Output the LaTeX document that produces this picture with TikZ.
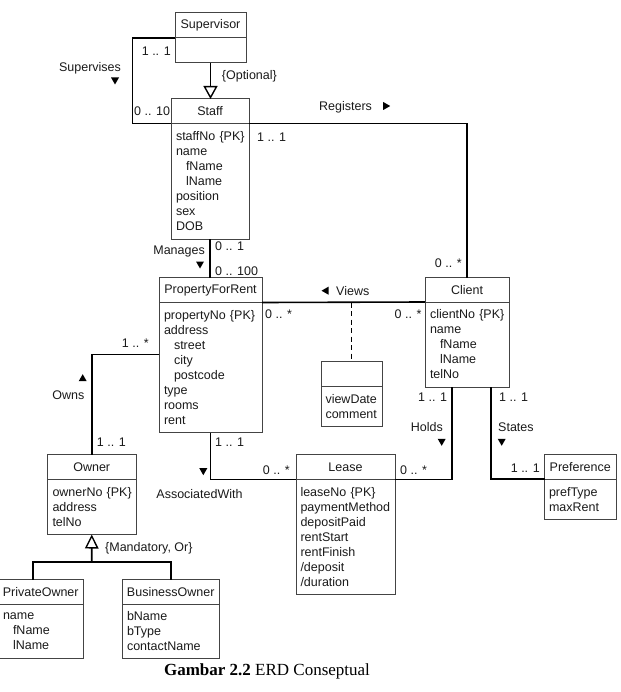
\documentclass[tikz,border=0pt]{standalone}
\usepackage{fontspec}
\newfontfamily\umlf{Liberation Sans}
\newfontfamily\capf{Liberation Serif}
\usetikzlibrary{arrows.meta,calc}
\definecolor{boxc}{HTML}{444444}
\definecolor{txt}{HTML}{1A1A1A}
\newcommand\tridown[1]{\fill[black] (#1) ++(-4,-3.5) -- ++(8,0) -- ++(-4,7) -- cycle;}
\newcommand\triup[1]{\fill[black] (#1) ++(-4,3.5) -- ++(8,0) -- ++(-4,-7) -- cycle;}
\newcommand\triright[1]{\fill[black] (#1) ++(-3.5,-4) -- ++(0,8) -- ++(7,-4) -- cycle;}
\newcommand\trileft[1]{\fill[black] (#1) ++(3.5,-4) -- ++(0,8) -- ++(-7,-4) -- cycle;}
\begin{document}
\begin{tikzpicture}[x=1pt,y=-1pt,
  hdr/.style={draw=boxc, line width=1pt, inner sep=0pt, outer sep=0pt, anchor=north west,
    font=\umlf\fontsize{12.5}{15}\selectfont, text=txt},
  bdy/.style={hdr, align=left, inner xsep=5pt},
  lbl/.style={inner sep=0pt, font=\umlf\fontsize{12.5}{15}\selectfont, text=txt},
  conn/.style={line width=1.6pt, draw=black},
  gen/.style={conn, -{Triangle[open, length=13pt, width=14pt, line width=1.4pt]}}]
\useasboundingbox (0,0) rectangle (620,692);

% classes
\node[hdr, minimum width=71, minimum height=25] (suph) at (175,13) {Supervisor};
\node[hdr, minimum width=71, minimum height=25] (supb) at (suph.south west) {};

\node[hdr, minimum width=78, minimum height=24.5] (stfh) at (171,99) {Staff};
\node[bdy, text width=68pt, minimum height=116] (stfb) at (stfh.south west)
  {staffNo~\{PK\}\\name\\\hspace*{10pt}fName\\\hspace*{10pt}lName\\position\\sex\\DOB};

\node[hdr, minimum width=103, minimum height=25] (pfrh) at (159,277.5) {PropertyForRent};
\node[bdy, text width=93pt, minimum height=130] (pfrb) at (pfrh.south west)
  {propertyNo~\{PK\}\\address\\\hspace*{10pt}street\\\hspace*{10pt}city\\\hspace*{10pt}postcode\\type\\rooms\\rent};

\node[hdr, minimum width=84, minimum height=24.5] (clih) at (425,277.5) {Client};
\node[bdy, text width=74pt, minimum height=85] (clib) at (clih.south west)
  {clientNo~\{PK\}\\name\\\hspace*{10pt}fName\\\hspace*{10pt}lName\\telNo};

\node[hdr, minimum width=61, minimum height=25] (ash) at (321,361.5) {};
\node[bdy, inner xsep=4.5pt, text width=52pt, minimum height=39.5] (asb) at (ash.south west)
  {viewDate\\comment};

\node[hdr, minimum width=99, minimum height=25] (leaseh) at (296,454.5) {Lease};
\node[bdy, inner xsep=4.5pt, text width=90pt, minimum height=115] (leaseb) at (leaseh.south west)
  {leaseNo~\{PK\}\\paymentMethod\\depositPaid\\rentStart\\rentFinish\\/deposit\\/duration};

\node[hdr, minimum width=71.5, minimum height=24.5] (prefh) at (544.5,454.5) {Preference};
\node[bdy, inner xsep=4.5pt, text width=62.5pt, minimum height=40.5] (prefb) at (prefh.south west)
  {prefType\\maxRent};

\node[hdr, minimum width=88.5, minimum height=24.5] (ownh) at (47.5,454.5) {Owner};
\node[bdy, text width=78.5pt, minimum height=55.5] (ownb) at (ownh.south west)
  {ownerNo~\{PK\}\\address\\telNo};

\node[hdr, minimum width=85.5, minimum height=24.5] (poh) at (-2,579.5) {PrivateOwner};
\node[bdy, text width=75.5pt, minimum height=54.5] (pob) at (poh.south west)
  {name\\\hspace*{10pt}fName\\\hspace*{10pt}lName};

\node[hdr, minimum width=97.5, minimum height=24.5] (busih) at (122,579.5) {BusinessOwner};
\node[bdy, text width=87.5pt, minimum height=54.5] (busib) at (busih.south west)
  {bName\\bType\\contactName};

% connectors
\coordinate (supl) at (132.5,38);
\draw[conn] (suph.south west) -- (supl) |- (stfh.south west);
\draw[gen] (supb.south) -- (supb.south |- stfh.north);
\draw[conn] (stfh.south east) -| (clih.north);
\draw[conn] (stfb.south) -- (stfb.south |- pfrh.north);
\draw[conn] (pfrh.south east) -- (clih.south west);
\draw[conn, line width=1.3pt, dash pattern=on 5pt off 3.5pt] (ash.north |- pfrh.south east) -- (ash.north);
\draw[conn] ([xshift=-15pt]clib.south) |- (leaseh.south east);
\draw[conn] ([xshift=24pt]clib.south) |- (prefh.south west);
\draw[conn] (pfrb.south) |- (leaseh.south west);
\draw[conn] ([yshift=13.2pt]pfrb.west) -| (ownh.north);
\coordinate (gj) at (91.7,562);
\coordinate (gl) at (32.7,562);
\draw[gen, -{Triangle[open, length=14pt, width=13.5pt, line width=1.4pt]}] (gj) -- (ownb.south);
\draw[conn] (gl |- poh.north) -- (gl) -- (gj -| busih.north) -- (busih.north);

% labels
\node[lbl, anchor=east] (m1) at (171,51.7) {1 .. 1};
\node[lbl] (supv) at (90,68) {Supervises};
\tridown{115,81}
\node[lbl, anchor=west] (opt) at (221.7,76) {\{Optional\}};
\node[lbl, anchor=west] (m2) at (134,111) {0 .. 10};
\node[lbl, anchor=west] (reg) at (319,107) {Registers};
\triright{386.7,106}
\node[lbl, anchor=west] (m3) at (257,137.7) {1 .. 1};
\node[lbl, anchor=east] (m4) at (462,263) {0 .. *};
\node[lbl, anchor=east] (man) at (205,251.7) {Manages};
\tridown{200,265}
\node[lbl, anchor=west] (m5) at (215,245.7) {0 .. 1};
\node[lbl, anchor=west] (m6) at (215,271) {0 .. 100};
\trileft{325,290.7}
\node[lbl, anchor=west] (views) at (336,290.7) {Views};
\node[lbl, anchor=west] (m7) at (265,314.3) {0 .. *};
\node[lbl, anchor=east] (m8) at (421.7,314) {0 .. *};
\node[lbl, anchor=east] (m9) at (149,342.7) {1 .. *};
\triup{82.7,377.7}
\node[lbl] (owns) at (68.3,395) {Owns};
\node[lbl, anchor=west] (m10) at (96.7,441.7) {1 .. 1};
\node[lbl, anchor=west] (m11) at (215,441.7) {1 .. 1};
\tridown{203.3,471.7}
\node[lbl] (assw) at (199.5,494.3) {AssociatedWith};
\node[lbl, anchor=east] (m12) at (290,470) {0 .. *};
\node[lbl, anchor=west] (m13) at (400,470) {0 .. *};
\node[lbl, anchor=east] (m14) at (447.3,397.3) {1 .. 1};
\node[lbl, anchor=east] (holds) at (443,427.3) {Holds};
\tridown{441.7,442.3}
\node[lbl, anchor=west] (m15) at (499,397.3) {1 .. 1};
\node[lbl, anchor=west] (states) at (498,427.3) {States};
\tridown{501.7,442.3}
\node[lbl, anchor=east] (m16) at (540,468.3) {1 .. 1};
\node[lbl, anchor=west] (mand) at (105,548.3) {\{Mandatory, Or\}};

\node[inner sep=0pt, font=\capf\fontsize{17}{20}\selectfont] (cap) at (267,671.7)
  {\textbf{Gambar 2.2} ERD Conseptual};
\end{tikzpicture}
\end{document}
